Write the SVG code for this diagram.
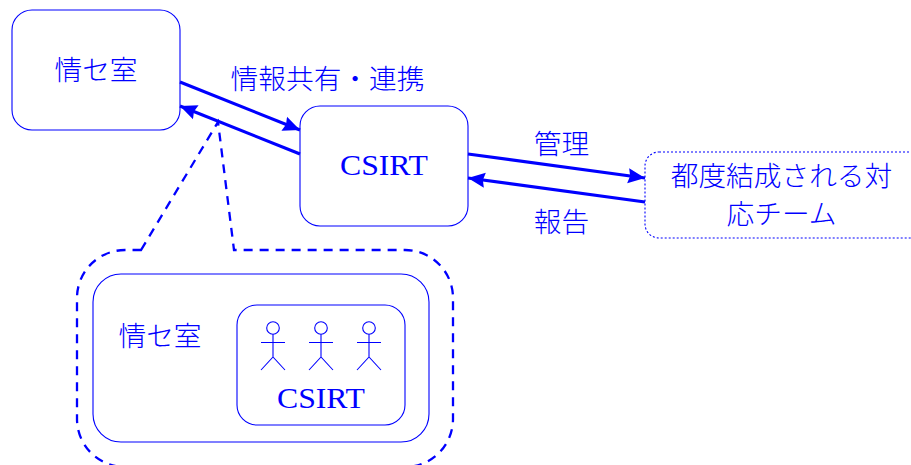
<svg xmlns="http://www.w3.org/2000/svg" width="911" height="465" viewBox="0 0 911 465">
<style>
.box{fill:none;stroke:#0000ff;stroke-width:1.1}
.dot{stroke-dasharray:2 2}
.flow{fill:none;stroke:#0000ff;stroke-width:3.200}
.dash{fill:none;stroke:#0000ff;stroke-width:2.300;stroke-dasharray:9 7}
.actor{fill:none;stroke:#0000ff;stroke-width:1.1}
text{fill:#0000ff;text-anchor:middle}
.jp{font-family:"Noto Sans CJK JP","Noto Sans",sans-serif;font-size:27.700px;font-weight:300}
.lat{font-family:"Liberation Serif",serif;font-size:30px}
</style>
<defs>
<marker id="ah" markerUnits="userSpaceOnUse" markerWidth="18" markerHeight="16" refX="17" refY="8" orient="auto"><path d="M0 0.500L17 8L0 15.500L2 8Z" fill="#0000ff"/></marker>
<g id="stick"><circle cx="0" cy="0" r="6.300"/><path d="M0 6.300V29M-12 14.500H12M-12 42L0 29L12 42"/></g>
</defs>
<g id="connectors">
<path class="flow" marker-end="url(#ah)" d="M180 82L300 130"/>
<path class="flow" marker-end="url(#ah)" d="M300 154L180 106"/>
<path class="flow" marker-end="url(#ah)" d="M468 154L645 178"/>
<path class="flow" marker-end="url(#ah)" d="M645 202L468 178"/>
</g>
<g id="callout"><path class="dash" d="M141 250L218 122L234 250H405A48 48 0 0 1 453 298V419A48 48 0 0 1 405 467H125A48 48 0 0 1 77 419V298A48 48 0 0 1 125 250Z"/></g>
<g id="node-joho"><rect class="box" x="12" y="10" width="168" height="120" rx="20"/><text class="jp" x="96" y="80">情セ室</text></g>
<g id="node-csirt"><rect class="box" x="300" y="106" width="168" height="120" rx="20"/><text class="lat" x="384" y="175" textLength="88" lengthAdjust="spacingAndGlyphs">CSIRT</text></g>
<g id="node-team"><rect class="box dot" x="645" y="152" width="285" height="86" rx="14"/><text class="jp" x="781.500" y="186">都度結成される対</text><text class="jp" x="781.500" y="224">応チーム</text></g>
<g id="label-share"><text class="jp" x="327.500" y="89">情報共有・連携</text></g>
<g id="label-manage"><text class="jp" x="561.500" y="154">管理</text></g>
<g id="label-report"><text class="jp" x="561.500" y="232">報告</text></g>
<g id="node-outer"><rect class="box" x="93" y="274" width="336" height="168" rx="28"/><text class="jp" x="160" y="346">情セ室</text></g>
<g id="node-inner"><rect class="box" x="237" y="305" width="168" height="120" rx="20"/><text class="lat" x="321" y="408" textLength="88" lengthAdjust="spacingAndGlyphs">CSIRT</text></g>
<g id="actor-1" class="actor"><use href="#stick" x="273" y="328"/></g>
<g id="actor-2" class="actor"><use href="#stick" x="321" y="328"/></g>
<g id="actor-3" class="actor"><use href="#stick" x="369" y="328"/></g>
</svg>
